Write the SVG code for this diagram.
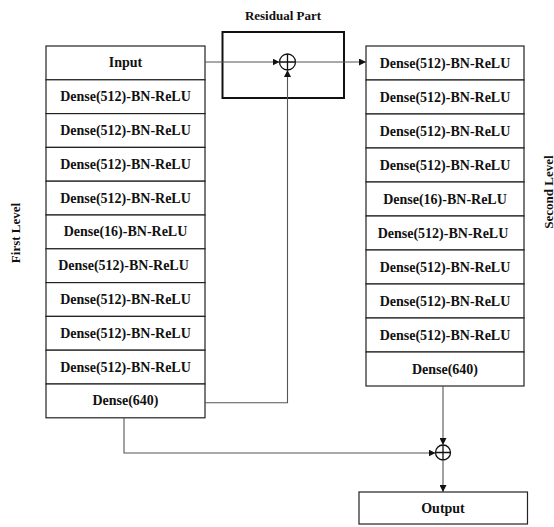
<svg xmlns="http://www.w3.org/2000/svg" width="554" height="527" viewBox="0 0 554 527">
<defs>
<marker id="arr" viewBox="0 0 10 10" refX="10" refY="5" markerWidth="7" markerHeight="7" markerUnits="userSpaceOnUse" orient="auto">
<path d="M0,0 L10,5 L0,10 z" fill="#111"/>
</marker>
</defs>
<style>
.box{fill:#fff;stroke:#222;stroke-width:1.2}
.t{font-family:"Liberation Serif","Times New Roman",serif;font-weight:bold;font-size:14px;fill:#111;text-anchor:middle;dominant-baseline:central}
.lbl{font-family:"Liberation Serif","Times New Roman",serif;font-weight:bold;font-size:13px;fill:#111;text-anchor:middle;dominant-baseline:central}
.c{fill:none;stroke:#555;stroke-width:1.1}
.sum{fill:#fff;stroke:#111;stroke-width:1.3}
</style>
<rect width="554" height="527" fill="#fff"/>
<text class="lbl" x="283" y="15">Residual Part</text>
<text class="lbl" transform="translate(15,233) rotate(-90)">First Level</text>
<text class="lbl" transform="translate(548,192) rotate(-90)">Second Level</text>
<g id="residual-box"><rect x="222.5" y="32" width="121.5" height="66" fill="none" stroke="#111" stroke-width="2"/></g>
<g id="first-level">
<g id="l0"><rect class="box" x="46" y="46" width="159" height="33.8"/><text class="t" x="125.5" y="62.9">Input</text></g>
<g id="l1"><rect class="box" x="46" y="79.8" width="159" height="33.8"/><text class="t" x="125.5" y="96.7">Dense(512)-BN-ReLU</text></g>
<g id="l2"><rect class="box" x="46" y="113.6" width="159" height="33.8"/><text class="t" x="125.5" y="130.5">Dense(512)-BN-ReLU</text></g>
<g id="l3"><rect class="box" x="46" y="147.4" width="159" height="33.8"/><text class="t" x="125.5" y="164.3">Dense(512)-BN-ReLU</text></g>
<g id="l4"><rect class="box" x="46" y="181.2" width="159" height="33.8"/><text class="t" x="125.5" y="198.1">Dense(512)-BN-ReLU</text></g>
<g id="l5"><rect class="box" x="46" y="215" width="159" height="33.8"/><text class="t" x="125.5" y="231.9">Dense(16)-BN-ReLU</text></g>
<g id="l6"><rect class="box" x="46" y="248.8" width="159" height="33.8"/><text class="t" x="123.5" y="265.7">Dense(512)-BN-ReLU</text></g>
<g id="l7"><rect class="box" x="46" y="282.6" width="159" height="33.8"/><text class="t" x="125.5" y="299.5">Dense(512)-BN-ReLU</text></g>
<g id="l8"><rect class="box" x="46" y="316.4" width="159" height="33.8"/><text class="t" x="125.5" y="333.3">Dense(512)-BN-ReLU</text></g>
<g id="l9"><rect class="box" x="46" y="350.2" width="159" height="33.8"/><text class="t" x="125.5" y="367.1">Dense(512)-BN-ReLU</text></g>
<g id="l10"><rect class="box" x="46" y="384" width="159" height="33.8"/><text class="t" x="125.5" y="400.9">Dense(640)</text></g>
</g>
<g id="second-level">
<g id="r0"><rect class="box" x="366" y="46" width="158" height="34"/><text class="t" x="445" y="63">Dense(512)-BN-ReLU</text></g>
<g id="r1"><rect class="box" x="366" y="80" width="158" height="34"/><text class="t" x="445" y="97">Dense(512)-BN-ReLU</text></g>
<g id="r2"><rect class="box" x="366" y="114" width="158" height="34"/><text class="t" x="445" y="131">Dense(512)-BN-ReLU</text></g>
<g id="r3"><rect class="box" x="366" y="148" width="158" height="34"/><text class="t" x="445" y="165">Dense(512)-BN-ReLU</text></g>
<g id="r4"><rect class="box" x="366" y="182" width="158" height="34"/><text class="t" x="445" y="199">Dense(16)-BN-ReLU</text></g>
<g id="r5"><rect class="box" x="366" y="216" width="158" height="34"/><text class="t" x="443" y="233">Dense(512)-BN-ReLU</text></g>
<g id="r6"><rect class="box" x="366" y="250" width="158" height="34"/><text class="t" x="445" y="267">Dense(512)-BN-ReLU</text></g>
<g id="r7"><rect class="box" x="366" y="284" width="158" height="34"/><text class="t" x="445" y="301">Dense(512)-BN-ReLU</text></g>
<g id="r8"><rect class="box" x="366" y="318" width="158" height="34"/><text class="t" x="445" y="335">Dense(512)-BN-ReLU</text></g>
<g id="r9"><rect class="box" x="366" y="352" width="158" height="34"/><text class="t" x="445" y="369">Dense(640)</text></g>
</g>
<g id="output"><rect class="box" x="359" y="492" width="168.5" height="32"/><text class="t" x="443" y="508">Output</text></g>
<g id="sum1"><circle class="sum" cx="287.5" cy="62" r="8"/><path d="M279.5,62 H295.5 M287.5,54 V70" stroke="#111" stroke-width="1.3"/></g>
<g id="sum2"><circle class="sum" cx="443" cy="452.5" r="7.5"/><path d="M435.5,452.5 H450.5 M443,445 V460" stroke="#111" stroke-width="1.3"/></g>
<g id="connectors">
<path class="c" d="M205,62 H279.5" marker-end="url(#arr)"/>
<path class="c" d="M295.5,62 H366" marker-end="url(#arr)"/>
<path class="c" d="M205,402.7 H287.5 V70" marker-end="url(#arr)"/>
<path class="c" d="M124,417.8 V453 H435.5" marker-end="url(#arr)"/>
<path class="c" d="M443,386 V445" marker-end="url(#arr)"/>
<path class="c" d="M443,460 V492" marker-end="url(#arr)"/>
</g>
</svg>
